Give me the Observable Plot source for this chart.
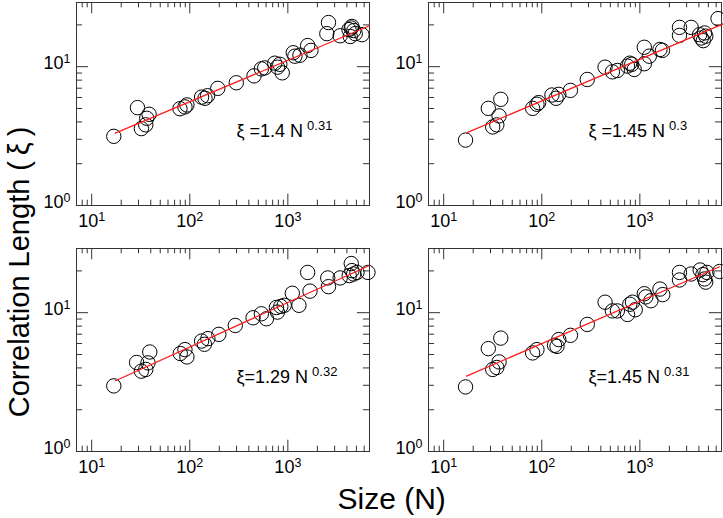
<!DOCTYPE html>
<html><head><meta charset="utf-8">
<script src="https://cdn.jsdelivr.net/npm/d3@7"></script>
<script src="https://cdn.jsdelivr.net/npm/@observablehq/plot@0.6"></script>
<style>
html,body{margin:0;padding:0;background:#fff;}
#chart{width:723px;height:518px;}
</style></head><body><div id="chart"></div>
<script>
// ---- data ----
const sizesA = [16.8,29.3,32.1,35.6,36.4,38.5,79.4,89.3,93.5,132,143,152,193,298,452,537,581,736,783,828,877,1135,1180,1329,1592,1722,2596,2496,3414,4200,4500,4430,4325,4865,4700,5700];
const xiA    = [3.15,5.07,3.58,3.81,4.25,4.54,4.98,5.13,5.30,6.04,5.92,6.18,6.98,7.66,8.59,9.64,9.80,10.6,9.92,10.4,9.03,12.6,11.9,12.1,14.2,13.1,20.8,17.3,16.7,18.5,19.5,19.0,16.5,17.3,18.2,17.0];
const sizesB = [16.7,28.5,31.6,34.8,36.7,38.2,80.7,89.3,92.9,127,140,149,196,291,442,525,590,748,790,827,876,1110,1110,1249,1603,1700,2535,2535,3335,4065,4570,4226,4700,4430,6270];
const xiB    = [2.96,5.01,3.68,3.81,4.42,5.82,5.01,5.36,5.51,6.25,5.92,6.32,6.75,8.09,9.92,9.18,9.39,10.1,10.6,10.4,9.55,13.8,10.5,11.9,13.3,13.1,19.2,16.8,19.2,17.0,17.5,16.1,16.6,15.4,22.2];
const sizesC = [16.8,28.7,32.1,35.6,37.5,39.1,80,89.3,93.5,132,141,153,198,291,442,537,605,765,783,848,918,1110,1297,1592,1682,2552,2596,3414,4224,4430,4500,4690,5070,6560];
const xiC    = [2.97,4.38,3.79,3.90,4.35,5.21,5.08,5.42,4.80,6.25,5.92,6.50,6.98,8.09,9.19,9.82,9.04,10.9,10.1,11.1,11.3,13.8,11.3,19.5,14.3,17.8,15.4,17.8,18.5,22.6,20.1,19.0,19.5,19.5];
const sizesD = [16.7,28.5,31.6,34.8,36.7,38.2,80.7,89.3,135,143,149,196,291,442,525,590,748,790,841,897,1110,1150,1297,1603,1711,2535,2535,3335,4120,4395,4570,4690,4830,6520];
const xiD    = [2.92,5.51,3.90,4.03,4.42,6.56,5.13,5.42,5.82,5.72,6.40,6.87,8.23,11.9,10.3,10.3,9.71,11.5,11.9,10.5,13.7,13.0,12.2,14.8,13.5,19.5,17.2,19.0,20.3,18.8,17.5,16.6,19.5,19.8];

// fitted lines as drawn (end points)
const fitSizesA = [17.4, 6800], fitXiA = [3.32, 19.7];
const fitSizesB = [17.3, 6800], fitXiB = [3.35, 20.1];
const fitSizesC = [17.5, 6700], fitXiC = [3.23, 21.8];
const fitSizesD = [17.1, 6500], fitXiD = [3.49, 21.4];

const fitLabels = ["ξ =1.4 N^0.31", "ξ =1.45 N^0.3", "ξ=1.29 N^0.32", "ξ=1.45 N^0.31"];
const panelCols = ["L", "R", "L", "R"];
const panelRows = ["T", "T", "B", "B"];

const majorN = [10, 100, 1000];
const minorN = [8, 9, 20, 30, 40, 50, 60, 70, 80, 90, 200, 300, 400, 500, 600, 700, 800, 900, 2000, 3000, 4000, 5000, 6000];
const majorXi = [1, 10];
const minorXi = [2, 3, 4, 5, 6, 7, 8, 9, 20];

// ---- build tables ----
const sizeSets = [sizesA, sizesB, sizesC, sizesD];
const xiSets = [xiA, xiB, xiC, xiD];
const fitN = [fitSizesA, fitSizesB, fitSizesC, fitSizesD];
const fitXi = [fitXiA, fitXiB, fitXiC, fitXiD];
const points = [], fits = [], notes = [];
for (let p = 0; p < 4; p++) {
  sizeSets[p].forEach((n, i) => points.push({N: n, xi: xiSets[p][i], col: panelCols[p], row: panelRows[p]}));
  fitN[p].forEach((n, i) => fits.push({N: n, xi: fitXi[p][i], col: panelCols[p], row: panelRows[p], panel: p}));
  notes.push({label: fitLabels[p], col: panelCols[p], row: panelRows[p]});
}

// ---- layout ----
const W = 723, H = 518, mL = 76, mR = 2, mT = 2, mB = 66;
const fxPad = 0.168, fyPad = 0.173;
const fw = (W - mL - mR) / (2 - fxPad) * (1 - fxPad);
const fh = (H - mT - mB) / (2 - fyPad) * (1 - fyPad);
const ink = "#333";
const expFmt = d => "10^" + Math.round(Math.log10(d));

const svg = Plot.plot({
  width: W, height: H,
  marginLeft: mL, marginRight: mR, marginTop: mT, marginBottom: mB,
  facet: {marginTop: 0, marginRight: 0, marginBottom: 0, marginLeft: 0},
  fx: {domain: ["L", "R"], paddingInner: fxPad, paddingOuter: 0, axis: null, label: null},
  fy: {domain: ["T", "B"], paddingInner: fyPad, paddingOuter: 0, axis: null, label: null},
  x: {type: "log", domain: [7, 6800]},
  y: {type: "log", domain: [1, 29]},
  style: {fontFamily: "'Liberation Sans', Arial, Helvetica, sans-serif", background: "white", color: "black"},
  marks: [
    Plot.frame({stroke: ink, strokeWidth: 1}),
    // inward ticks on all four sides
    Plot.tickX(majorN, {x: d => d, insetTop: fh - 12, stroke: ink}),
    Plot.tickX(minorN, {x: d => d, insetTop: fh - 6, stroke: ink}),
    Plot.tickX(majorN, {x: d => d, insetBottom: fh - 12, stroke: ink}),
    Plot.tickX(minorN, {x: d => d, insetBottom: fh - 6, stroke: ink}),
    Plot.tickY(majorXi, {y: d => d, insetRight: fw - 12, stroke: ink}),
    Plot.tickY(minorXi, {y: d => d, insetRight: fw - 6, stroke: ink}),
    Plot.tickY(majorXi, {y: d => d, insetLeft: fw - 12, stroke: ink}),
    Plot.tickY(minorXi, {y: d => d, insetLeft: fw - 6, stroke: ink}),
    Plot.axisX({ticks: majorN, tickSize: 0, tickPadding: 9, tickFormat: expFmt, facetAnchor: null, fontSize: 18, label: null, fill: "black"}),
    Plot.axisY({ticks: majorXi, tickSize: 0, tickPadding: 6, dy: -3, tickFormat: expFmt, facetAnchor: null, fontSize: 18, label: null, fill: "black"}),
    Plot.dot(points, {x: "N", y: "xi", fx: "col", fy: "row", r: 7.2, stroke: "black", strokeWidth: 1, fill: "none"}),
    Plot.line(fits, {x: "N", y: "xi", z: "panel", fx: "col", fy: "row", stroke: "#ff1a1a", strokeWidth: 1.2}),
    Plot.text(notes, {text: "label", fx: "col", fy: "row", frameAnchor: "bottom-left", dx: 160, dy: -69, textAnchor: "start", lineAnchor: "bottom", fontSize: 18, fill: "black"})
  ]
});

// superscripts as real text
svg.querySelectorAll("text").forEach(t => {
  const s = t.textContent;
  const i = s.indexOf("^");
  if (i < 0) return;
  const base = s.slice(0, i), exp = s.slice(i + 1);
  const ann = base.includes("ξ");
  t.textContent = base;
  const ts = document.createElementNS("http://www.w3.org/2000/svg", "tspan");
  ts.setAttribute("dy", ann ? -7 : -6);
  ts.setAttribute("font-size", ann ? 13 : 12.5);
  if (ann) ts.setAttribute("dx", 4);
  ts.textContent = exp;
  t.appendChild(ts);
});

const s = d3.select(svg);
s.append("text").attr("transform", "translate(28.5,272) rotate(-90)")
  .attr("text-anchor", "middle").attr("font-size", 29).attr("fill", "black")
  .text("Correlation Length (\u2009ξ\u2009)");
s.append("text").attr("x", 391.7).attr("y", 509)
  .attr("text-anchor", "middle").attr("font-size", 30).attr("fill", "black")
  .text("Size (N)");

document.getElementById("chart").appendChild(svg);
</script></body></html>
